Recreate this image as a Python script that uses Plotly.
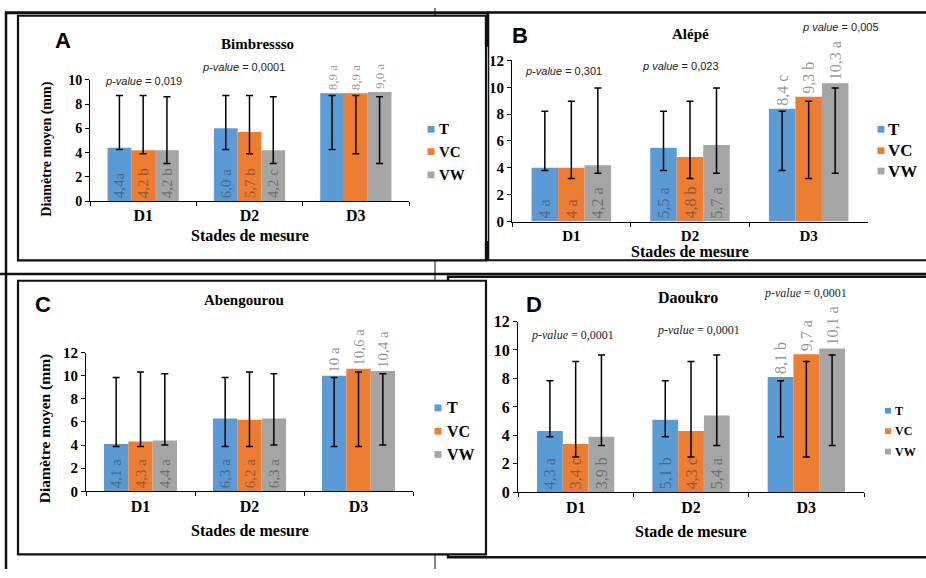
import plotly.graph_objects as go

W, H = 926, 578

categories = ["D1", "D2", "D3"]
series = ["T", "VC", "VW"]
colors = ["#5B9BD5", "#ED7D31", "#A5A5A5"]

# ---------------- Panel A : Bimbressso ----------------
a_T = [4.4, 6.0, 8.9]
a_VC = [4.2, 5.7, 8.9]
a_VW = [4.2, 4.2, 9.0]
a_T_txt = ["4,4a", "6,0 a", "8,9 a"]
a_VC_txt = ["4,2 b", "5,7 b", "8,9 a"]
a_VW_txt = ["4,2 b", "4,2 c", "9,0 a"]
a_T_lo = [4.25, 4.25, 4.25]
a_T_hi = [8.7, 8.7, 8.7]
a_VC_lo = [3.9, 3.9, 3.9]
a_VC_hi = [8.7, 8.7, 8.7]
a_VW_lo = [3.1, 3.1, 3.1]
a_VW_hi = [8.6, 8.6, 8.6]
a_ptext = ["<i>p-value</i> = 0,019", "<i>p-value</i> = 0,0001"]

# ---------------- Panel B : Alépé ----------------
b_T = [4.0, 5.5, 8.4]
b_VC = [4.0, 4.8, 9.3]
b_VW = [4.2, 5.7, 10.3]
b_T_txt = ["4 a", "5,5 a", "8,4 c"]
b_VC_txt = ["4 a", "4,8 b", "9,3 b"]
b_VW_txt = ["4,2 a", "5,7 a", "10,3 a"]
b_T_lo = [3.8, 3.8, 3.8]
b_T_hi = [8.22, 8.22, 8.22]
b_VC_lo = [3.2, 3.2, 3.2]
b_VC_hi = [8.95, 8.95, 8.95]
b_VW_lo = [3.6, 3.6, 3.6]
b_VW_hi = [9.95, 9.95, 9.95]
b_ptext = ["<i>p-value</i> = 0,301", "<i>p value</i> = 0,023", "<i>p value</i> = 0,005"]

# ---------------- Panel C : Abengourou ----------------
c_T = [4.1, 6.3, 10.0]
c_VC = [4.3, 6.2, 10.6]
c_VW = [4.4, 6.3, 10.4]
c_T_txt = ["4,1 a", "6,3 a", "10 a"]
c_VC_txt = ["4,3 a", "6,2 a", "10,6 a"]
c_VW_txt = ["4,4 a", "6,3 a", "10,4 a"]
c_T_lo = [3.87, 3.87, 3.87]
c_T_hi = [9.84, 9.84, 9.84]
c_VC_lo = [3.87, 3.87, 3.87]
c_VC_hi = [10.32, 10.32, 10.32]
c_VW_lo = [4.0, 4.0, 4.0]
c_VW_hi = [10.17, 10.17, 10.17]
c_ptext = []

# ---------------- Panel D : Daoukro ----------------
d_T = [4.3, 5.1, 8.1]
d_VC = [3.4, 4.3, 9.7]
d_VW = [3.9, 5.4, 10.1]
d_T_txt = ["4,3 a", "5,1 b", "8,1 b"]
d_VC_txt = ["3,4 c", "4,3 c", "9,7 a"]
d_VW_txt = ["3,9 b", "5,4 a", "10,1 a"]
d_T_lo = [3.9, 3.9, 3.9]
d_T_hi = [7.83, 7.83, 7.83]
d_VC_lo = [2.49, 2.49, 2.49]
d_VC_hi = [9.19, 9.19, 9.19]
d_VW_lo = [3.29, 3.29, 3.29]
d_VW_hi = [9.65, 9.65, 9.65]
d_ptext = ["<i>p-value</i> = 0,0001", "<i>p-value</i> = 0,0001", "<i>p-value</i> = 0,0001"]

y_title = "Diamètre moyen (mm)"

SERIF = "Liberation Serif"
SANS = "Liberation Sans"
LBL_COLOR = "rgba(60,60,60,0.55)"


def fx(px):
    return px / W


def fy(py):
    return 1 - py / H


panels = [
    dict(letter="A", title="Bimbressso", xtitle="Stades de mesure",
         vals=(a_T, a_VC, a_VW), txt=(a_T_txt, a_VC_txt, a_VW_txt),
         lo=(a_T_lo, a_VC_lo, a_VW_lo), hi=(a_T_hi, a_VC_hi, a_VW_hi),
         ptext=a_ptext, ymax=10,
         dom=(90, 409, 74, 199), lblsize=15, outsize=13, ticksize=14, catsize=16,
         letter_pos=(63, 33), title_pos=(257, 37, 15), xtitle_pos=(250, 234, 16),
         ytitle_pos=(47, 146, 14), pfont=(SANS, 11), ppos=[(143, 75), (243, 61)],
         leg=dict(sq=431, tx=437, ys=[125, 148, 172], s=7, fs=15)),
    dict(letter="B", title="Alépé", xtitle="Stades de mesure",
         vals=(b_T, b_VC, b_VW), txt=(b_T_txt, b_VC_txt, b_VW_txt),
         lo=(b_T_lo, b_VC_lo, b_VW_lo), hi=(b_T_hi, b_VC_hi, b_VW_hi),
         ptext=b_ptext, ymax=12,
         dom=(512, 868, 54, 220), lblsize=16, outsize=16, ticksize=15, catsize=15,
         letter_pos=(520, 28), title_pos=(690, 27, 15), xtitle_pos=(690, 251, 16),
         ytitle_pos=None, pfont=(SANS, 11), ppos=[(563, 65), (680, 60), (840, 20)],
         leg=dict(sq=881, tx=886, ys=[125, 147, 168], s=7, fs=17)),
    dict(letter="C", title="Abengourou", xtitle="Stades de mesure",
         vals=(c_T, c_VC, c_VW), txt=(c_T_txt, c_VC_txt, c_VW_txt),
         lo=(c_T_lo, c_VC_lo, c_VW_lo), hi=(c_T_hi, c_VC_hi, c_VW_hi),
         ptext=c_ptext, ymax=12,
         dom=(86, 413, 355, 498), lblsize=15, outsize=15, ticksize=15, catsize=16,
         letter_pos=(43, 305), title_pos=(244, 301, 15), xtitle_pos=(250, 538, 16),
         ytitle_pos=(45, 433, 15.5), pfont=(SANS, 11), ppos=[],
         leg=dict(sq=438, tx=445, ys=[412, 436, 460], s=7, fs=16)),
    dict(letter="D", title="Daoukro", xtitle="Stade de mesure",
         vals=(d_T, d_VC, d_VW), txt=(d_T_txt, d_VC_txt, d_VW_txt),
         lo=(d_T_lo, d_VC_lo, d_VW_lo), hi=(d_T_hi, d_VC_hi, d_VW_hi),
         ptext=d_ptext, ymax=12,
         dom=(518, 864, 323, 499), lblsize=16, outsize=16, ticksize=16, catsize=16,
         letter_pos=(534, 305), title_pos=(688, 298, 16), xtitle_pos=(691, 539, 16),
         ytitle_pos=None, pfont=(SERIF, 12), ppos=[(572, 337), (698, 332), (805, 294)],
         leg=dict(sq=888, tx=893, ys=[415, 436, 457], s=6, fs=12)),
]

fig = go.Figure()
annotations = []
shapes = []

# ---- page frames (drawn first, below everything) ----
line_c = "#111111"
shapes += [
    dict(type="line", xref="paper", yref="paper", x0=fx(435), x1=fx(435), y0=fy(0), y1=fy(578),
         line=dict(color=line_c, width=1), layer="below"),
    dict(type="line", xref="paper", yref="paper", x0=fx(6), x1=fx(6), y0=fy(4), y1=fy(578),
         line=dict(color=line_c, width=2.5), layer="below"),
    dict(type="line", xref="paper", yref="paper", x0=fx(5), x1=fx(926), y0=fy(5), y1=fy(5),
         line=dict(color=line_c, width=3), layer="below"),
    dict(type="line", xref="paper", yref="paper", x0=fx(0), x1=fx(926), y0=fy(274), y1=fy(274),
         line=dict(color=line_c, width=2.5), layer="below"),
]
frames = [(487.5, 940, 5, 260, 2), (448, 940, 277, 566, 2.5), (18, 486, 8, 260, 2.2), (18, 486, 281, 563, 2.2)]
for x0, x1, y0, y1, lw in frames:
    shapes.append(dict(type="rect", xref="paper", yref="paper", x0=fx(x0), x1=fx(x1), y0=fy(y1), y1=fy(y0),
                       line=dict(color=line_c, width=lw), fillcolor="white", layer="below"))

for i, p in enumerate(panels, start=1):
    xa = "x" if i == 1 else f"x{i}"
    ya = "y" if i == 1 else f"y{i}"
    for s in range(3):
        v = p["vals"][s]
        lo = p["lo"][s]
        hi = p["hi"][s]
        fig.add_trace(go.Bar(
            x=categories, y=v, name=series[s], xaxis=xa, yaxis=ya,
            marker=dict(color=colors[s], line=dict(width=0)),
            text=p["txt"][s], textposition=["inside", "inside", "outside"],
            textangle=-90, insidetextanchor="start", constraintext="none",
            insidetextfont=dict(family=SERIF, size=p["lblsize"], color=LBL_COLOR),
            outsidetextfont=dict(family=SERIF, size=p["outsize"], color=LBL_COLOR),
            error_y=dict(type="data", symmetric=False,
                         array=[h - val for h, val in zip(hi, v)],
                         arrayminus=[val - l for val, l in zip(v, lo)],
                         color="black", thickness=1.5, width=3.5),
            cliponaxis=False, showlegend=False, hoverinfo="skip",
        ))
    x0, x1, yt, yb = p["dom"]
    axis_common = dict(showline=True, linecolor="black", linewidth=1, showgrid=False,
                       zeroline=False, ticks="outside", tickcolor="black", ticklen=4)
    fig.layout[("xaxis" if i == 1 else f"xaxis{i}")] = dict(
        domain=[fx(x0), fx(x1)], anchor=ya, type="category", range=[-0.5, 2.5],
        tickson="boundaries",
        tickfont=dict(family=SERIF, size=p["catsize"], color="black", weight="bold"),
        **axis_common)
    fig.layout[("yaxis" if i == 1 else f"yaxis{i}")] = dict(
        domain=[fy(yb), fy(yt)], anchor=xa, range=[0, p["ymax"]], dtick=2,
        tickfont=dict(family=SERIF, size=p["ticksize"], color="black", weight="bold"),
        **axis_common)

    lx, ly = p["letter_pos"]
    annotations.append(dict(text=p["letter"], x=fx(lx), y=fy(ly), xref="paper", yref="paper",
                            showarrow=False, xanchor="center", yanchor="middle",
                            font=dict(family=SANS, size=22, color="black", weight="bold")))
    tx, ty, ts = p["title_pos"]
    annotations.append(dict(text=p["title"], x=fx(tx), y=fy(ty), xref="paper", yref="paper",
                            showarrow=False, xanchor="center", yanchor="middle",
                            font=dict(family=SERIF, size=ts, color="black", weight="bold")))
    xx, xy, xs = p["xtitle_pos"]
    annotations.append(dict(text=p["xtitle"], x=fx(xx), y=fy(xy), xref="paper", yref="paper",
                            showarrow=False, xanchor="center", yanchor="middle",
                            font=dict(family=SERIF, size=xs, color="black", weight="bold")))
    if p["ytitle_pos"]:
        yx, yy, ys = p["ytitle_pos"]
        annotations.append(dict(text=y_title, x=fx(yx), y=fy(yy), xref="paper", yref="paper",
                                showarrow=False, xanchor="center", yanchor="middle", textangle=-90,
                                font=dict(family=SERIF, size=ys, color="black", weight="bold")))
    pf, psz = p["pfont"]
    for txt, (px_, py_) in zip(p["ptext"], p["ppos"]):
        annotations.append(dict(text=txt, x=fx(px_), y=fy(py_), xref="paper", yref="paper",
                                showarrow=False, xanchor="center", yanchor="middle",
                                font=dict(family=pf, size=psz, color="#222222")))
    lg = p["leg"]
    for s in range(3):
        cy = lg["ys"][s]
        hs = lg["s"] / 2
        shapes.append(dict(type="rect", xref="paper", yref="paper",
                           x0=fx(lg["sq"] - hs), x1=fx(lg["sq"] + hs),
                           y0=fy(cy + hs), y1=fy(cy - hs),
                           line=dict(width=0), fillcolor=colors[s], layer="above"))
        annotations.append(dict(text=series[s], x=fx(lg["tx"]), y=fy(cy), xref="paper", yref="paper",
                                showarrow=False, xanchor="left", yanchor="middle",
                                font=dict(family=SERIF, size=lg["fs"], color="black", weight="bold")))

# panel A overlaps the left part of panel B's tick labels
shapes.append(dict(type="rect", xref="paper", yref="paper", x0=fx(472), x1=fx(491), y0=fy(240), y1=fy(40),
                   line=dict(width=0), fillcolor="white", layer="above"))
shapes.append(dict(type="line", xref="paper", yref="paper", x0=fx(486), x1=fx(486), y0=fy(8), y1=fy(260),
                   line=dict(color=line_c, width=2.2), layer="above"))
shapes.append(dict(type="line", xref="paper", yref="paper", x0=fx(488.5), x1=fx(488.5), y0=fy(5), y1=fy(260),
                   line=dict(color=line_c, width=1.5), layer="above"))

fig.update_layout(
    width=W, height=H, autosize=False,
    margin=dict(l=0, r=0, t=0, b=0),
    paper_bgcolor="white", plot_bgcolor="rgba(0,0,0,0)",
    barmode="group", bargap=0.33, bargroupgap=0,
    annotations=annotations, shapes=shapes,
    showlegend=False,
)

fig.write_html("out.html", config={"displayModeBar": False},
               post_script="document.body.style.margin='0';document.body.style.overflow='hidden';")
